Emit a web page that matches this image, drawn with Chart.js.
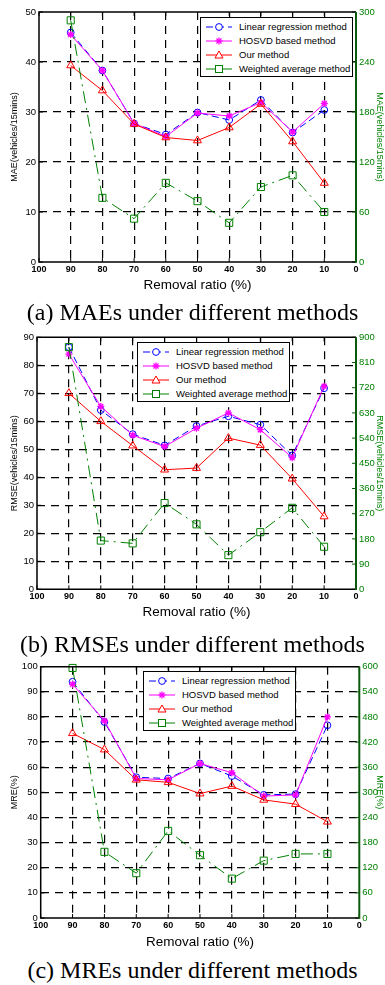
<!DOCTYPE html>
<html><head><meta charset="utf-8">
<script src="https://cdn.jsdelivr.net/npm/chart.js@4.4.0/dist/chart.umd.min.js"></script>
<style>
body{margin:0;background:#fff;width:385px;height:985px;position:relative;overflow:hidden;font-family:"Liberation Sans",Arial,sans-serif}
canvas{position:absolute;left:0}
.cap{position:absolute;left:0;width:385px;text-align:center;font-family:"Liberation Serif","Times New Roman",serif;font-size:24px;line-height:28px;color:#000;white-space:nowrap}
.leg{position:absolute;background:#fff;border:1px solid #000;box-sizing:border-box;width:153px;height:60px;color:#000;font-family:"Liberation Sans",Arial,sans-serif;font-size:9.5px}
.leg .row{position:absolute;left:0;width:150px;height:14px;line-height:14px;white-space:nowrap}
.leg svg{position:absolute;left:5px;top:2px}
.leg span{position:absolute;left:38px;top:0}
</style></head><body>
<canvas id="cA"></canvas>
<canvas id="cB"></canvas>
<canvas id="cC"></canvas>
<div class="cap" id="capA">(a) MAEs under different methods</div>
<div class="cap" id="capB">(b) RMSEs under different methods</div>
<div class="cap" id="capC">(c) MREs under different methods</div>
<script>
// ---------- data ----------
const seriesNames = ['Linear regression method', 'HOSVD based method', 'Our method', 'Weighted average method'];
const ratios = [90, 80, 70, 60, 50, 40, 30, 20, 10];
const xTicks = [100, 90, 80, 70, 60, 50, 40, 30, 20, 10, 0];

// (a) MAE
const maeLinear   = [45.9, 38.3, 27.7, 25.5, 29.9, 28.4, 32.4, 25.9, 30.4];
const maeHosvd    = [45.5, 38.3, 27.7, 25.1, 29.8, 29.2, 31.9, 26.0, 31.7];
const maeOur      = [39.3, 34.3, 27.6, 24.9, 24.3, 26.9, 31.6, 24.1, 15.8];
const maeWeighted = [290, 77, 52, 95, 73, 47, 90, 104, 60];
const maeLeftTicks  = [0, 10, 20, 30, 40, 50];
const maeRightTicks = [0, 60, 120, 180, 240, 300];

// (b) RMSE
const rmseLinear   = [86.5, 64.0, 55.4, 51.4, 58.3, 61.8, 58.8, 47.8, 71.8];
const rmseHosvd    = [84.0, 65.3, 55.0, 51.0, 57.5, 63.0, 57.0, 47.0, 72.5];
const rmseOur      = [70.0, 60.0, 51.3, 42.7, 43.3, 54.0, 51.5, 39.5, 26.0];
const rmseWeighted = [865, 174, 164, 308, 232, 122, 204, 291, 152];
const rmseLeftTicks  = [0, 10, 20, 30, 40, 50, 60, 70, 80, 90];
const rmseRightTicks = [0, 90, 180, 270, 360, 450, 540, 630, 720, 810, 900];

// (c) MRE
const mreLinear   = [94.0, 78.0, 56.0, 55.5, 61.5, 56.5, 49.0, 49.3, 76.7];
const mreHosvd    = [93.0, 78.5, 55.5, 55.0, 61.5, 57.8, 48.5, 49.0, 80.0];
const mreOur      = [73.5, 67.0, 55.0, 54.0, 49.5, 52.5, 47.0, 45.3, 38.3];
const mreWeighted = [597, 158, 107, 208, 150, 94, 137, 153, 153];
const mreLeftTicks  = [0, 10, 20, 30, 40, 50, 60, 70, 80, 90, 100];
const mreRightTicks = [0, 60, 120, 180, 240, 300, 360, 420, 480, 540, 600];

// ---------- styles ----------
const BLUE = '#0000ff', MAG = '#ff00ff', RED = '#ff0000', GREEN = '#008000', DKGREEN = '#0b5a0b';
const FONT = '"Liberation Sans", Arial, sans-serif';

const framePlugin = {
  id: 'frame',
  afterDatasetsDraw(chart) {
    const {ctx, chartArea: a, scales} = chart;
    ctx.save();
    ctx.lineWidth = 1;
    // inward ticks
    ctx.strokeStyle = '#000';
    scales.y.ticks.forEach(t => {
      const py = scales.y.getPixelForValue(t.value);
      ctx.beginPath(); ctx.moveTo(a.left, py); ctx.lineTo(a.left + 4, py); ctx.stroke();
    });
    scales.x.ticks.forEach(t => {
      const px = scales.x.getPixelForValue(t.value);
      ctx.beginPath(); ctx.moveTo(px, a.bottom); ctx.lineTo(px, a.bottom - 4); ctx.stroke();
      ctx.beginPath(); ctx.moveTo(px, a.top); ctx.lineTo(px, a.top + 4); ctx.stroke();
    });
    ctx.strokeStyle = DKGREEN;
    scales.y1.ticks.forEach(t => {
      const py = scales.y1.getPixelForValue(t.value);
      ctx.beginPath(); ctx.moveTo(a.right, py); ctx.lineTo(a.right - 4, py); ctx.stroke();
    });
    // box
    ctx.lineWidth = 1.5;
    ctx.strokeStyle = '#000';
    ctx.beginPath();
    ctx.moveTo(a.right, a.top); ctx.lineTo(a.left, a.top); ctx.lineTo(a.left, a.bottom); ctx.lineTo(a.right, a.bottom);
    ctx.stroke();
    ctx.strokeStyle = DKGREEN;
    ctx.lineWidth = 2;
    ctx.beginPath(); ctx.moveTo(a.right, a.top); ctx.lineTo(a.right, a.bottom + 0.75); ctx.stroke();
    ctx.restore();
  }
};

function pts(vals) { return ratios.map((x, i) => ({x: x, y: vals[i]})); }

function makePanel(cfg) {
  const cv = document.getElementById(cfg.id);
  const H = Math.round(cfg.bottom - cfg.top);
  cv.width = 385; cv.height = H;
  cv.style.top = cfg.top + 'px';
  const leftMax = cfg.leftTicks[cfg.leftTicks.length - 1];
  const rightMax = cfg.rightTicks[cfg.rightTicks.length - 1];
  const gridColor = (ctx, max) => {
    const v = ctx.tick ? ctx.tick.value : null;
    return (v === 0 || v === max) ? 'rgba(0,0,0,0)' : '#000';
  };
  new Chart(cv, {
    type: 'line',
    data: {
      datasets: [
        {label: seriesNames[0], data: pts(cfg.lin), yAxisID: 'y', borderColor: BLUE, borderWidth: 1, borderDash: [7, 4],
         pointStyle: 'circle', pointRadius: 3.4, pointBorderColor: BLUE, pointBackgroundColor: 'rgba(0,0,0,0)', pointBorderWidth: 1, clip: false, order: 4},
        {label: seriesNames[1], data: pts(cfg.hos), yAxisID: 'y', borderColor: MAG, borderWidth: 1,
         pointStyle: 'star', pointRadius: 3.5, pointBorderColor: MAG, pointBackgroundColor: MAG, pointBorderWidth: 1.3, clip: false, order: 3},
        {label: seriesNames[2], data: pts(cfg.our), yAxisID: 'y', borderColor: RED, borderWidth: 1,
         pointStyle: 'triangle', pointRadius: 4.6, pointBorderColor: RED, pointBackgroundColor: 'rgba(0,0,0,0)', pointBorderWidth: 1, clip: false, order: 2},
        {label: seriesNames[3], data: pts(cfg.wav), yAxisID: 'y1', borderColor: GREEN, borderWidth: 1, borderDash: [12, 5, 2, 5],
         pointStyle: 'rect', pointRadius: 5, pointBorderColor: GREEN, pointBackgroundColor: 'rgba(0,0,0,0)', pointBorderWidth: 1, clip: false, order: 1}
      ]
    },
    options: {
      responsive: false, animation: false, devicePixelRatio: 1,
      layout: {padding: {top: cfg.plotTop - cfg.top, left: 0, right: 0, bottom: 0}},
      plugins: {legend: {display: false}, tooltip: {enabled: false}},
      scales: {
        x: {
          type: 'linear', reverse: true, min: 0, max: 100,
          afterBuildTicks: s => { s.ticks = xTicks.map(v => ({value: v})); },
          afterFit: s => { s.height = cfg.bottom - cfg.plotBottom; },
          ticks: {color: '#000', font: {family: FONT, size: 9, weight: 'bold'}, padding: 2, maxRotation: 0, autoSkip: false},
          grid: {drawTicks: false, color: c => gridColor(c, 100), lineWidth: 1.2},
          border: {display: false, dash: [8, 6]},
          title: {display: true, text: 'Removal ratio (%)', color: '#000', font: {family: FONT, size: 13.5}, padding: {top: 0, bottom: 0}}
        },
        y: {
          type: 'linear', position: 'left', min: 0, max: leftMax,
          afterBuildTicks: s => { s.ticks = cfg.leftTicks.map(v => ({value: v})); },
          afterFit: s => { s.width = cfg.plotLeft; },
          ticks: {color: '#000', font: {family: FONT, size: 9.5}, padding: 3},
          grid: {drawTicks: false, color: c => gridColor(c, leftMax), lineWidth: 1.2},
          border: {display: false, dash: [8, 6]},
          title: {display: true, text: cfg.leftTitle, color: '#000', font: {family: FONT, size: 9}, padding: {top: 9.5, bottom: 0}}
        },
        y1: {
          type: 'linear', position: 'right', min: 0, max: rightMax,
          afterBuildTicks: s => { s.ticks = cfg.rightTicks.map(v => ({value: v})); },
          afterFit: s => { s.width = 385 - cfg.plotRight; },
          ticks: {color: GREEN, font: {family: FONT, size: 9.5}, padding: 3},
          grid: {display: false, drawTicks: false},
          border: {display: false},
          title: {display: true, text: cfg.rightTitle, color: GREEN, font: {family: FONT, size: 9}, padding: {top: 0, bottom: 0}}
        }
      }
    },
    plugins: [framePlugin]
  });
}

function symbolSvg(i) {
  const colors = [BLUE, MAG, RED, GREEN];
  const c = colors[i];
  let line = '<line x1="0" y1="5" x2="26" y2="5" stroke="' + c + '" stroke-width="1"' + (i === 0 ? ' stroke-dasharray="7,4"' : i === 3 ? ' stroke-dasharray="12,3"' : '') + '/>';
  let m = '';
  if (i === 0) m = '<circle cx="13" cy="5" r="3.4" fill="#fff" stroke="' + c + '" stroke-width="1"/>';
  if (i === 1) m = '<g stroke="' + c + '" stroke-width="1.3"><line x1="9.5" y1="5" x2="16.5" y2="5"/><line x1="13" y1="1.5" x2="13" y2="8.5"/><line x1="10.5" y1="2.5" x2="15.5" y2="7.5"/><line x1="10.5" y1="7.5" x2="15.5" y2="2.5"/></g>';
  if (i === 2) m = '<polygon points="13,1 17,8 9,8" fill="#fff" stroke="' + c + '" stroke-width="1"/>';
  if (i === 3) m = '<rect x="9.5" y="1.5" width="7" height="7" fill="#fff" stroke="' + c + '" stroke-width="1"/>';
  return '<svg width="26" height="10" viewBox="0 0 26 10">' + line + m + '</svg>';
}

function makeLegend(left, top) {
  const d = document.createElement('div');
  d.className = 'leg';
  d.style.left = left + 'px'; d.style.top = top + 'px';
  let html = '';
  seriesNames.forEach((n, i) => {
    html += '<div class="row" style="top:' + (1.5 + i * 14) + 'px">' + symbolSvg(i) + '<span>' + n + '</span></div>';
  });
  d.innerHTML = html;
  document.body.appendChild(d);
}

makePanel({id: 'cA', top: 0, plotTop: 12, plotBottom: 262, plotLeft: 39, plotRight: 356, bottom: 293,
  lin: maeLinear, hos: maeHosvd, our: maeOur, wav: maeWeighted, leftTicks: maeLeftTicks, rightTicks: maeRightTicks,
  leftTitle: 'MAE(vehicles/15mins)', rightTitle: 'MAE(vehicles/15mins)'});
makePanel({id: 'cB', top: 325, plotTop: 337.3, plotBottom: 589.3, plotLeft: 37, plotRight: 356, bottom: 620,
  lin: rmseLinear, hos: rmseHosvd, our: rmseOur, wav: rmseWeighted, leftTicks: rmseLeftTicks, rightTicks: rmseRightTicks,
  leftTitle: 'RMSE(vehicles/15mins)', rightTitle: 'RMSE(vehicles/15mins)'});
makePanel({id: 'cC', top: 654, plotTop: 666.7, plotBottom: 918, plotLeft: 40.7, plotRight: 359.3, bottom: 950,
  lin: mreLinear, hos: mreHosvd, our: mreOur, wav: mreWeighted, leftTicks: mreLeftTicks, rightTicks: mreRightTicks,
  leftTitle: 'MRE(%)', rightTitle: 'MRE(%)'});

makeLegend(200, 17);
makeLegend(137, 342);
makeLegend(143, 671);

document.getElementById('capA').style.top = (312 - 14) + 'px';
document.getElementById('capB').style.top = (644 - 14) + 'px';
document.getElementById('capC').style.top = (970 - 14) + 'px';
</script>
</body></html>
